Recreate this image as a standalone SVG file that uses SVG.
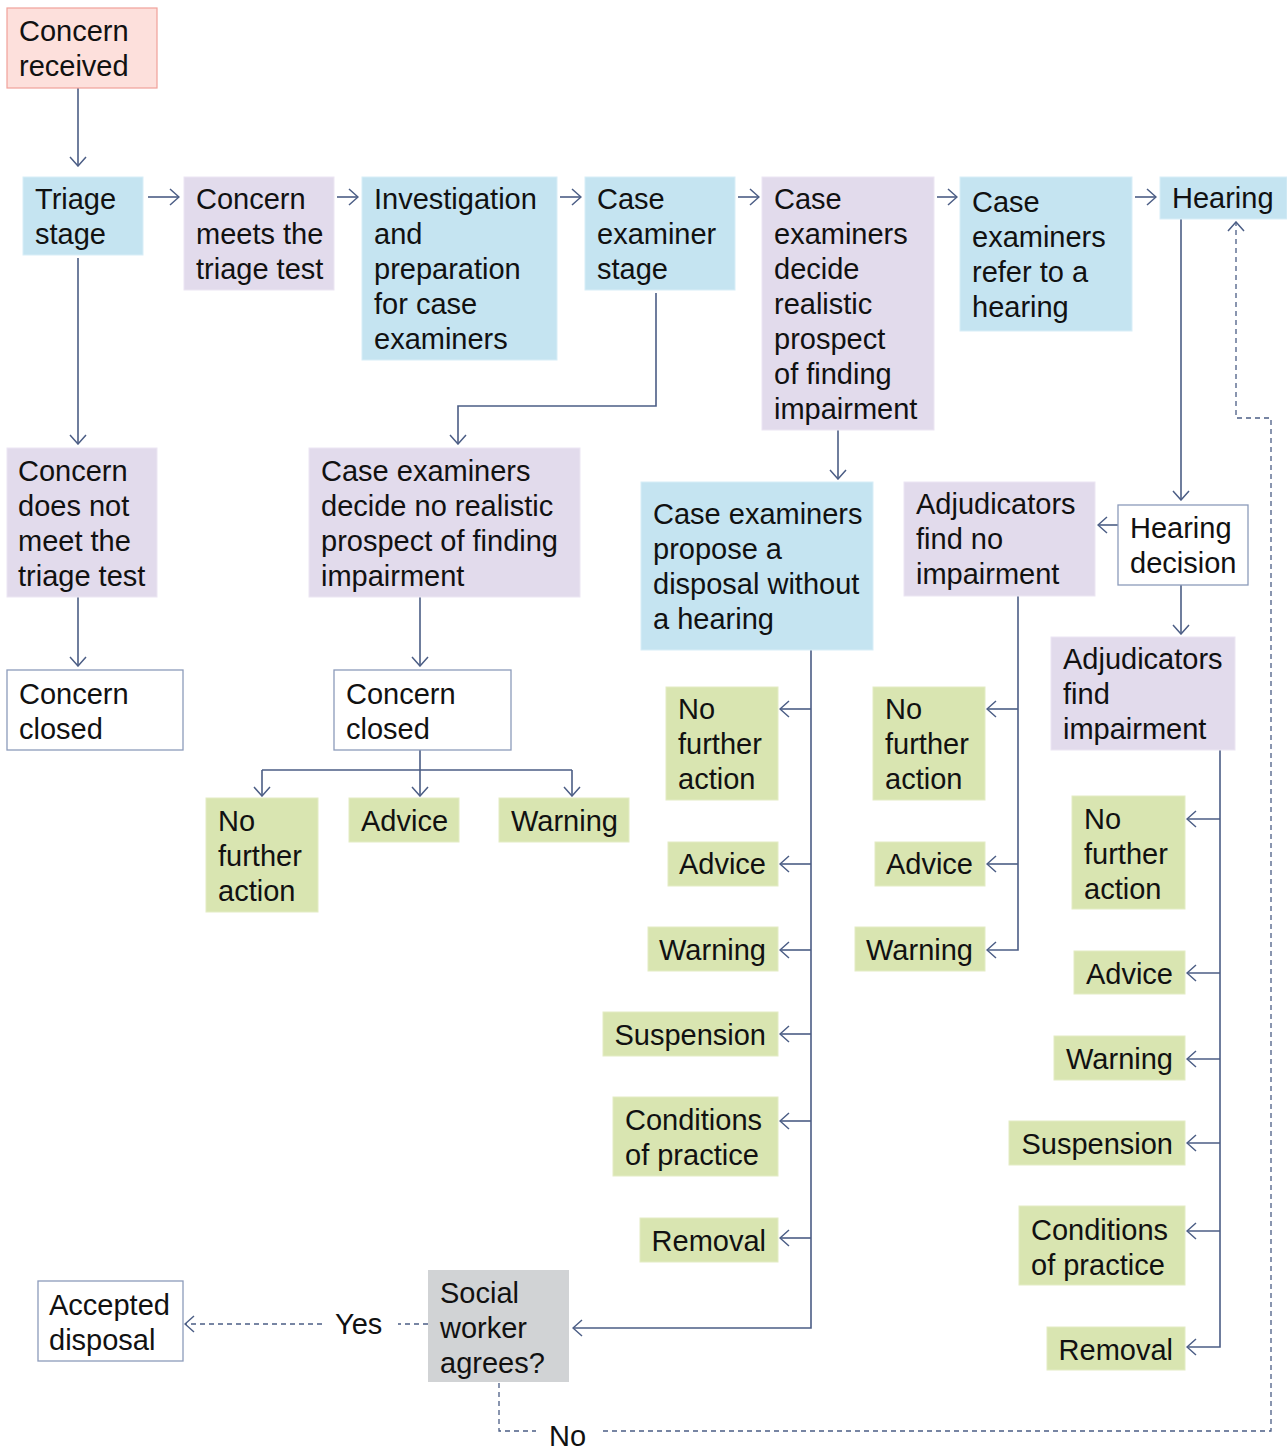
<svg xmlns="http://www.w3.org/2000/svg" width="1287" height="1450" viewBox="0 0 1287 1450">
<defs>
<style>
text{font-family:"Liberation Sans",Arial,sans-serif;font-size:29px;fill:#111}
.pink{fill:#fde0dc;stroke:#f1a19a;stroke-width:1.2}
.blue{fill:#c5e4f1;stroke:#d8eef7;stroke-width:1}
.purple{fill:#e2dbec;stroke:#ece6f3;stroke-width:1}
.green{fill:#d9e5b1;stroke:#e3ecc4;stroke-width:1}
.gray{fill:#d1d3d5}
.white{fill:#fff;stroke:#8c9bbb;stroke-width:1.3}
.c{fill:none;stroke:#4b5d85;stroke-width:1.6}
.d{fill:none;stroke:#4b5d85;stroke-width:1.3;stroke-dasharray:5 4}
.e{text-anchor:end}
</style>
<marker id="a" markerUnits="userSpaceOnUse" viewBox="0 0 11 18" refX="10" refY="9" markerWidth="11" markerHeight="18" orient="auto">
<path d="M1,1 L10,9 L1,17" fill="none" stroke="#4b5d85" stroke-width="1.5"/>
</marker>
</defs>

<g id="connectors">
<path class="c" d="M78,88 V166" marker-end="url(#a)"/>
<path class="c" d="M148,197 H179" marker-end="url(#a)"/>
<path class="c" d="M337,197 H358" marker-end="url(#a)"/>
<path class="c" d="M560,197 H581" marker-end="url(#a)"/>
<path class="c" d="M738,197 H759" marker-end="url(#a)"/>
<path class="c" d="M937,197 H957" marker-end="url(#a)"/>
<path class="c" d="M1135,197 H1156" marker-end="url(#a)"/>
<path class="c" d="M78,258 V444" marker-end="url(#a)"/>
<path class="c" d="M78,597 V666" marker-end="url(#a)"/>
<path class="c" d="M656,293 V406 H458 V444" marker-end="url(#a)"/>
<path class="c" d="M420,597 V666" marker-end="url(#a)"/>
<path class="c" d="M420,750 V796" marker-end="url(#a)"/>
<path class="c" d="M262,770 H572"/>
<path class="c" d="M262,770 V796" marker-end="url(#a)"/>
<path class="c" d="M572,770 V796" marker-end="url(#a)"/>
<path class="c" d="M838,430 V479" marker-end="url(#a)"/>
<path class="c" d="M811,650 V1328 H573" marker-end="url(#a)"/>
<path class="c" d="M811,709 H780" marker-end="url(#a)"/>
<path class="c" d="M811,864 H780" marker-end="url(#a)"/>
<path class="c" d="M811,950 H780" marker-end="url(#a)"/>
<path class="c" d="M811,1034 H780" marker-end="url(#a)"/>
<path class="c" d="M811,1121 H780" marker-end="url(#a)"/>
<path class="c" d="M811,1238 H780" marker-end="url(#a)"/>
<path class="c" d="M1181,219 V500" marker-end="url(#a)"/>
<path class="c" d="M1118,525 H1098" marker-end="url(#a)"/>
<path class="c" d="M1181,585 V634" marker-end="url(#a)"/>
<path class="c" d="M1018,596 V950 H987" marker-end="url(#a)"/>
<path class="c" d="M1018,709 H987" marker-end="url(#a)"/>
<path class="c" d="M1018,864 H987" marker-end="url(#a)"/>
<path class="c" d="M1220,750 V1347 H1187" marker-end="url(#a)"/>
<path class="c" d="M1220,819 H1187" marker-end="url(#a)"/>
<path class="c" d="M1220,973 H1187" marker-end="url(#a)"/>
<path class="c" d="M1220,1059 H1187" marker-end="url(#a)"/>
<path class="c" d="M1220,1143 H1187" marker-end="url(#a)"/>
<path class="c" d="M1220,1231 H1187" marker-end="url(#a)"/>
<path class="d" d="M428,1324 H398"/>
<path class="d" d="M322,1324 H185" marker-end="url(#a)"/>
<path class="d" d="M499,1383 V1431 H536"/>
<path class="d" d="M603,1431 H1271 V418 H1236 V222" marker-end="url(#a)"/>
<text x="335" y="1334">Yes</text>
<text x="549" y="1446">No</text>
</g>

<g id="concern-received"><rect class="pink" x="7" y="8" width="150" height="80"/><text x="19" y="41">Concern</text><text x="19" y="76">received</text></g>
<g id="triage-stage"><rect class="blue" x="23" y="177" width="120" height="78"/><text x="35" y="209">Triage</text><text x="35" y="244">stage</text></g>
<g id="meets-triage"><rect class="purple" x="184" y="177" width="150" height="113"/><text x="196" y="209">Concern</text><text x="196" y="244">meets the</text><text x="196" y="279">triage test</text></g>
<g id="investigation"><rect class="blue" x="362" y="177" width="195" height="183"/><text x="374" y="209">Investigation</text><text x="374" y="244">and</text><text x="374" y="279">preparation</text><text x="374" y="314">for case</text><text x="374" y="349">examiners</text></g>
<g id="case-examiner-stage"><rect class="blue" x="585" y="177" width="150" height="113"/><text x="597" y="209">Case</text><text x="597" y="244">examiner</text><text x="597" y="279">stage</text></g>
<g id="realistic-prospect"><rect class="purple" x="762" y="177" width="172" height="253"/><text x="774" y="209">Case</text><text x="774" y="244">examiners</text><text x="774" y="279">decide</text><text x="774" y="314">realistic</text><text x="774" y="349">prospect</text><text x="774" y="384">of finding</text><text x="774" y="419">impairment</text></g>
<g id="refer-hearing"><rect class="blue" x="960" y="177" width="172" height="154"/><text x="972" y="212">Case</text><text x="972" y="247">examiners</text><text x="972" y="282">refer to a</text><text x="972" y="317">hearing</text></g>
<g id="hearing"><rect class="blue" x="1160" y="177" width="127" height="42"/><text x="1172" y="208">Hearing</text></g>

<g id="not-meet-triage"><rect class="purple" x="7" y="448" width="150" height="149"/><text x="18" y="481">Concern</text><text x="18" y="516">does not</text><text x="18" y="551">meet the</text><text x="18" y="586">triage test</text></g>
<g id="concern-closed-1"><rect class="white" x="7" y="670" width="176" height="80"/><text x="19" y="704">Concern</text><text x="19" y="739">closed</text></g>
<g id="no-realistic-prospect"><rect class="purple" x="309" y="448" width="271" height="149"/><text x="321" y="481">Case examiners</text><text x="321" y="516">decide no realistic</text><text x="321" y="551">prospect of finding</text><text x="321" y="586">impairment</text></g>
<g id="concern-closed-2"><rect class="white" x="334" y="670" width="177" height="80"/><text x="346" y="704">Concern</text><text x="346" y="739">closed</text></g>
<g id="nfa-1"><rect class="green" x="206" y="798" width="112" height="114"/><text x="218" y="831">No</text><text x="218" y="866">further</text><text x="218" y="901">action</text></g>
<g id="advice-1"><rect class="green" x="349" y="798" width="110" height="44"/><text x="361" y="831">Advice</text></g>
<g id="warning-1"><rect class="green" x="499" y="798" width="130" height="44"/><text x="511" y="831">Warning</text></g>

<g id="propose-disposal"><rect class="blue" x="641" y="482" width="232" height="168"/><text x="653" y="524">Case examiners</text><text x="653" y="559">propose a</text><text x="653" y="594">disposal without</text><text x="653" y="629">a hearing</text></g>
<g id="nfa-2"><rect class="green" x="666" y="687" width="112" height="113"/><text x="678" y="719">No</text><text x="678" y="754">further</text><text x="678" y="789">action</text></g>
<g id="advice-2"><rect class="green" x="668" y="842" width="110" height="44"/><text class="e" x="766" y="874">Advice</text></g>
<g id="warning-2"><rect class="green" x="648" y="927" width="130" height="44"/><text class="e" x="766" y="960">Warning</text></g>
<g id="suspension-2"><rect class="green" x="603" y="1012" width="175" height="44"/><text class="e" x="766" y="1045">Suspension</text></g>
<g id="conditions-2"><rect class="green" x="613" y="1097" width="165" height="79"/><text x="625" y="1130">Conditions</text><text x="625" y="1165">of practice</text></g>
<g id="removal-2"><rect class="green" x="640" y="1218" width="138" height="44"/><text class="e" x="766" y="1251">Removal</text></g>

<g id="find-no-impairment"><rect class="purple" x="904" y="482" width="191" height="114"/><text x="916" y="514">Adjudicators</text><text x="916" y="549">find no</text><text x="916" y="584">impairment</text></g>
<g id="hearing-decision"><rect class="white" x="1118" y="505" width="130" height="80"/><text x="1130" y="538">Hearing</text><text x="1130" y="573">decision</text></g>
<g id="nfa-3"><rect class="green" x="873" y="687" width="112" height="113"/><text x="885" y="719">No</text><text x="885" y="754">further</text><text x="885" y="789">action</text></g>
<g id="advice-3"><rect class="green" x="875" y="842" width="110" height="44"/><text class="e" x="973" y="874">Advice</text></g>
<g id="warning-3"><rect class="green" x="855" y="927" width="130" height="44"/><text class="e" x="973" y="960">Warning</text></g>

<g id="find-impairment"><rect class="purple" x="1051" y="637" width="184" height="113"/><text x="1063" y="669">Adjudicators</text><text x="1063" y="704">find</text><text x="1063" y="739">impairment</text></g>
<g id="nfa-4"><rect class="green" x="1072" y="796" width="113" height="113"/><text x="1084" y="829">No</text><text x="1084" y="864">further</text><text x="1084" y="899">action</text></g>
<g id="advice-4"><rect class="green" x="1074" y="951" width="111" height="43"/><text class="e" x="1173" y="984">Advice</text></g>
<g id="warning-4"><rect class="green" x="1054" y="1036" width="131" height="44"/><text class="e" x="1173" y="1069">Warning</text></g>
<g id="suspension-4"><rect class="green" x="1009" y="1121" width="176" height="44"/><text class="e" x="1173" y="1154">Suspension</text></g>
<g id="conditions-4"><rect class="green" x="1019" y="1206" width="166" height="79"/><text x="1031" y="1240">Conditions</text><text x="1031" y="1275">of practice</text></g>
<g id="removal-4"><rect class="green" x="1047" y="1327" width="138" height="43"/><text class="e" x="1173" y="1360">Removal</text></g>

<g id="social-worker"><rect class="gray" x="428" y="1270" width="141" height="112"/><text x="440" y="1303">Social</text><text x="440" y="1338">worker</text><text x="440" y="1373">agrees?</text></g>
<g id="accepted-disposal"><rect class="white" x="38" y="1281" width="145" height="80"/><text x="49" y="1315">Accepted</text><text x="49" y="1350">disposal</text></g>
</svg>
